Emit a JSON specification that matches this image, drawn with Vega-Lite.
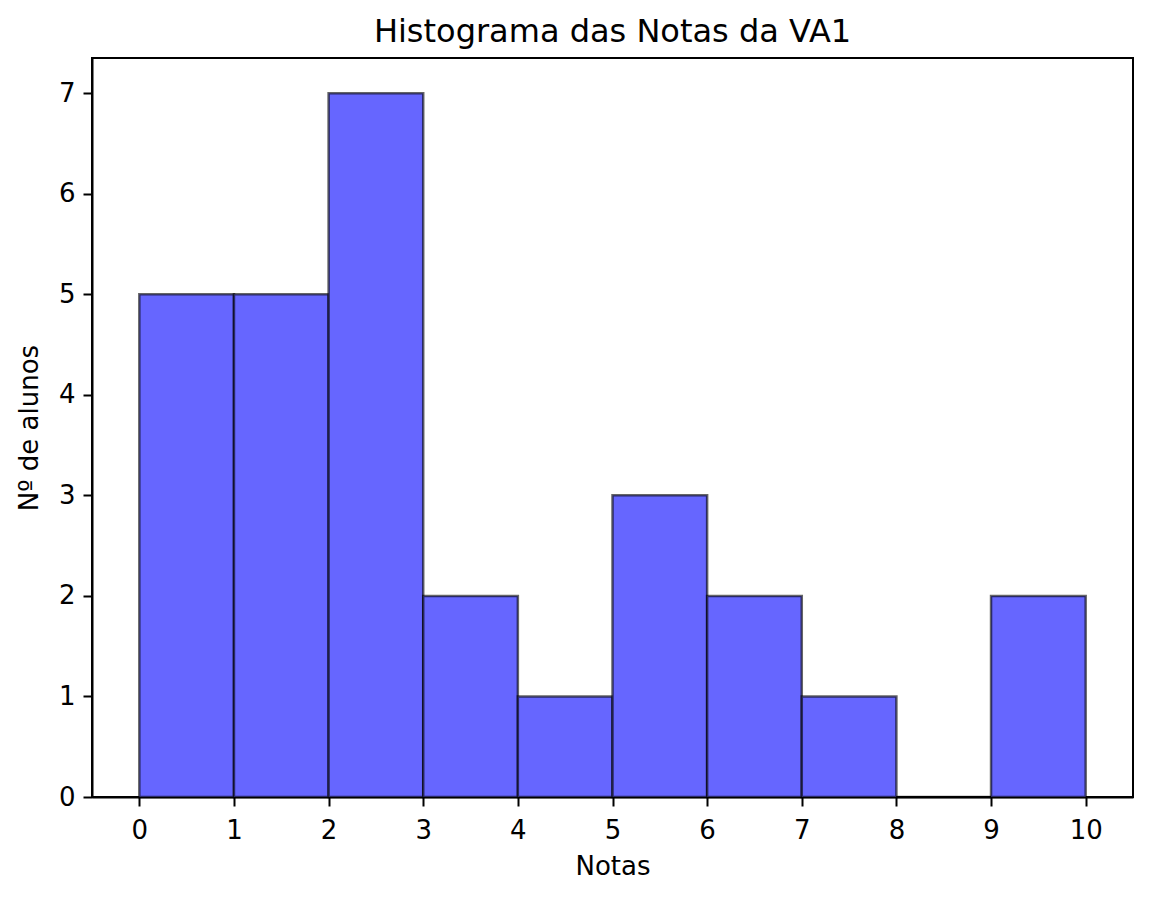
{
  "$schema": "https://vega.github.io/schema/vega-lite/v6.json",
  "autosize": {"type": "none"},
  "padding": {"left": 92, "top": 58, "right": 19, "bottom": 101},
  "width": 1041,
  "height": 739,
  "background": "white",
  "title": {"text": "Histograma das Notas da VA1", "font": "DejaVu Sans", "fontSize": 32, "fontWeight": "normal", "color": "black", "offset": 9},
  "config": {
    "view": {"stroke": "black", "strokeWidth": 2},
    "axis": {
      "labelFont": "DejaVu Sans", "labelFontSize": 26, "labelColor": "black",
      "titleFont": "DejaVu Sans", "titleFontSize": 26, "titleFontWeight": "normal", "titleColor": "black",
      "tickColor": "black", "tickWidth": 2, "tickSize": 9,
      "domainColor": "black", "domainWidth": 2,
      "grid": false, "labelPadding": 8
    }
  },
  "data": {"values": [
    {"start": 0, "end": 1, "count": 5},
    {"start": 1, "end": 2, "count": 5},
    {"start": 2, "end": 3, "count": 7},
    {"start": 3, "end": 4, "count": 2},
    {"start": 4, "end": 5, "count": 1},
    {"start": 5, "end": 6, "count": 3},
    {"start": 6, "end": 7, "count": 2},
    {"start": 7, "end": 8, "count": 1},
    {"start": 8, "end": 9, "count": 0},
    {"start": 9, "end": 10, "count": 2}
  ]},
  "mark": {"type": "rect", "fill": "#6666ff", "stroke": "black", "strokeOpacity": 0.6, "strokeWidth": 2.5},
  "encoding": {
    "x": {"field": "start", "type": "quantitative", "scale": {"domain": [-0.5, 10.5], "nice": false, "zero": false},
      "axis": {"title": "Notas", "values": [0,1,2,3,4,5,6,7,8,9,10], "labelFlush": false, "labelPadding": 11, "titlePadding": 10}},
    "x2": {"field": "end"},
    "y": {"field": "count", "type": "quantitative", "scale": {"domain": [0, 7.35], "nice": false},
      "axis": {"title": "Nº de alunos", "values": [0,1,2,3,4,5,6,7], "labelFlush": false, "titlePadding": 16}},
    "y2": {"datum": 0}
  }
}
